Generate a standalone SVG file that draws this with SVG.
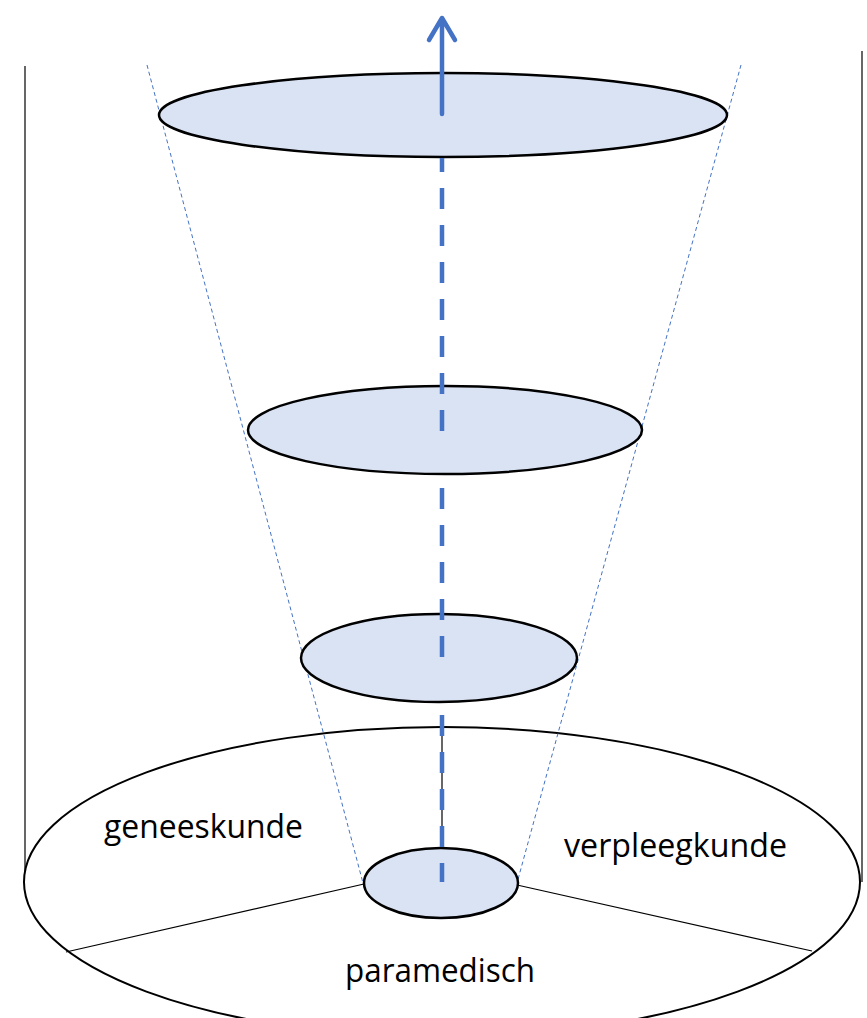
<svg xmlns="http://www.w3.org/2000/svg" width="867" height="1018" viewBox="0 0 867 1018">
<style>
.disc{fill:#DAE3F3;stroke:#000;stroke-width:2.5}
.thin{stroke:#000;stroke-width:1.2;fill:none}
.cone{stroke:#4472C4;stroke-width:1;stroke-dasharray:4 3;fill:none}
.axis{stroke:#4472C4;stroke-width:4.5;stroke-dasharray:21 16;fill:none}
.lbl{font-family:"Open Sans","Liberation Sans",sans-serif;font-size:32px;fill:#000}
</style>
<rect width="867" height="1018" fill="#fff"/>
<g id="frame">
<line class="thin" x1="25" y1="66" x2="25" y2="882"/>
<line class="thin" x1="862" y1="51" x2="862" y2="882"/>
</g>
<g id="base">
<ellipse cx="442" cy="882" rx="418" ry="155" fill="#fff" stroke="#000" stroke-width="2"/>
<line class="thin" x1="442" y1="727" x2="442" y2="848"/>
<line class="thin" x1="364" y1="884" x2="66" y2="952"/>
<line class="thin" x1="517" y1="885" x2="812" y2="951"/>
</g>
<g id="cone">
<line class="cone" x1="147" y1="65" x2="363" y2="883"/>
<line class="cone" x1="741" y1="65" x2="517" y2="883"/>
</g>
<g id="disc1"><ellipse class="disc" cx="443" cy="115" rx="284" ry="42"/></g>
<g id="disc2"><ellipse class="disc" cx="445" cy="430" rx="197" ry="44"/></g>
<g id="disc3"><ellipse class="disc" cx="439" cy="658" rx="138" ry="44"/></g>
<g id="disc4"><ellipse class="disc" cx="441" cy="883" rx="77" ry="35"/></g>
<g id="connectors">
<line class="axis" x1="442" y1="158" x2="442" y2="431" stroke-dashoffset="7"/>
<line class="axis" x1="442" y1="488" x2="442" y2="658"/>
<line class="axis" x1="442" y1="715" x2="442" y2="882"/>
<path d="M442 114 L442 19 M429 40 L442 18 L455 40" stroke="#4472C4" stroke-width="4.5" fill="none" stroke-linecap="round" stroke-linejoin="round"/>
</g>
<g id="labels">
<text class="lbl" x="104" y="838" textLength="199" lengthAdjust="spacingAndGlyphs">geneeskunde</text>
<text class="lbl" x="564" y="857" textLength="223" lengthAdjust="spacingAndGlyphs">verpleegkunde</text>
<text class="lbl" x="345" y="982" textLength="190" lengthAdjust="spacingAndGlyphs">paramedisch</text>
</g>
</svg>
